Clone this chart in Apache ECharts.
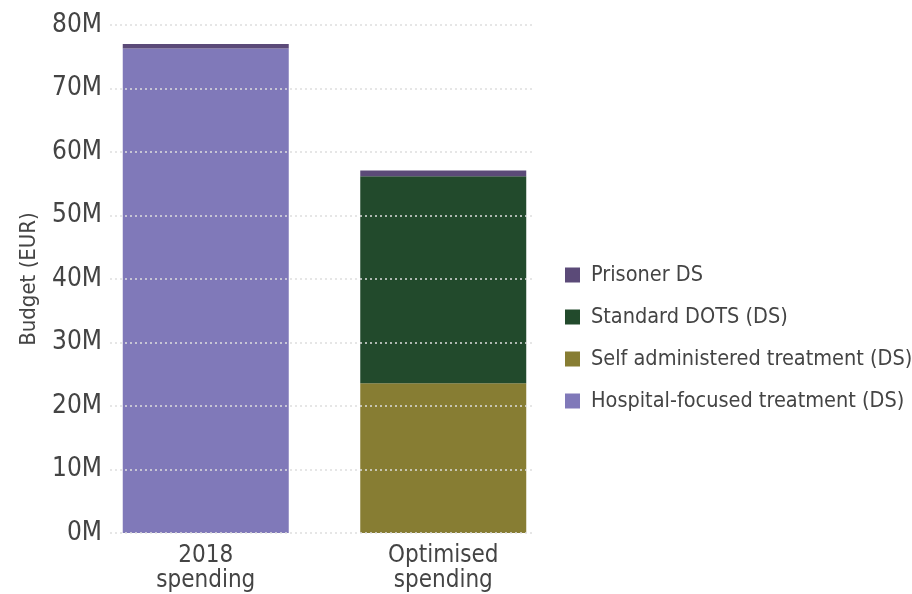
<!DOCTYPE html>
<html>
<head>
<meta charset="utf-8">
<script src="https://cdn.jsdelivr.net/npm/echarts@6/dist/echarts.min.js"></script>
<style>
  html, body { margin: 0; padding: 0; background: #fff; }
  #main { width: 912px; height: 594px; }
</style>
</head>
<body>
<div id="main"></div>
<script>
// data (millions EUR)
const categories = ['2018\nspending', 'Optimised\nspending'];
const hospital = [76.3, 0];
const selfAdmin = [0, 23.6];
const standardDots = [0, 32.6];
const prisoner = [0.7, 0.9];
const yTicks = [0, 10, 20, 30, 40, 50, 60, 70, 80];

const font = '"DejaVu Sans Condensed", "Liberation Sans Narrow", sans-serif';
const textColor = '#444';

const chart = echarts.init(document.getElementById('main'), null, { renderer: 'canvas' });

function barSeries(name, data, color) {
  return {
    name: name,
    type: 'bar',
    stack: 'total',
    xAxisIndex: 1,
    yAxisIndex: 1,
    barWidth: 166,
    data: data,
    itemStyle: { color: color },
    emphasis: { disabled: true }
  };
}

const option = {
  backgroundColor: '#ffffff',
  animation: false,
  grid: [
    // axis + dotted gridlines
    { left: 110, right: 379, top: 25, bottom: 61, z: 5 },
    // bars
    { left: 87, width: 475, top: 25, bottom: 61 }
  ],
  legend: {
    orient: 'vertical',
    left: 560,
    top: 259,
    itemWidth: 15,
    itemHeight: 15,
    itemGap: 20,
    icon: 'rect',
    textStyle: { fontFamily: font, fontSize: 21.5, color: textColor, padding: [0, 0, 0, 6] },
    data: ['Prisoner DS', 'Standard DOTS (DS)', 'Self administered treatment (DS)', 'Hospital-focused treatment (DS)']
  },
  xAxis: [
    {
      gridIndex: 0,
      type: 'category',
      data: ['', ''],
      axisLine: { show: false },
      axisTick: { show: false },
      axisLabel: { show: false }
    },
    {
      gridIndex: 1,
      type: 'category',
      data: categories,
      axisLine: { show: false },
      axisTick: { show: false },
      axisLabel: {
        fontFamily: font, fontSize: 24, color: textColor,
        lineHeight: 25, margin: 10
      }
    }
  ],
  yAxis: [
    {
      gridIndex: 0,
      type: 'value',
      min: yTicks[0],
      max: yTicks[yTicks.length - 1],
      interval: 10,
      z: 5,
      name: 'Budget (EUR)',
      nameLocation: 'middle',
      nameGap: 70,
      nameTextStyle: { fontFamily: font, fontSize: 22, color: textColor },
      axisLine: { show: false },
      axisTick: { show: false },
      axisLabel: {
        fontFamily: font, fontSize: 26, color: textColor, margin: 8,
        formatter: v => v + 'M'
      },
      splitLine: { lineStyle: { color: '#dedede', type: [2, 3], width: 1.5 } }
    },
    {
      gridIndex: 1,
      type: 'value',
      min: 0,
      max: 80,
      show: false,
      splitLine: { show: false }
    }
  ],
  series: [
    barSeries('Hospital-focused treatment (DS)', hospital, '#8079b9'),
    barSeries('Self administered treatment (DS)', selfAdmin, '#877d33'),
    barSeries('Standard DOTS (DS)', standardDots, '#224a2c'),
    barSeries('Prisoner DS', prisoner, '#5b4a78')
  ]
};

chart.setOption(option);
</script>
</body>
</html>
